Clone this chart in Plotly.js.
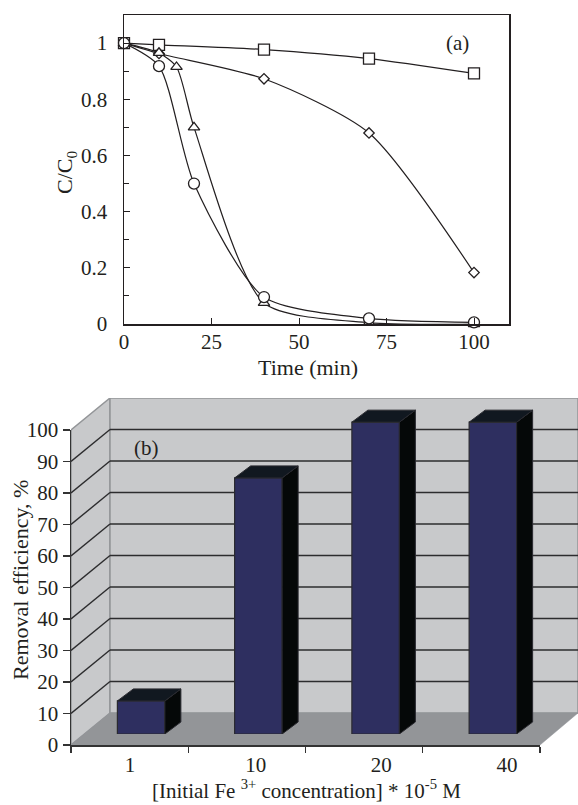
<!DOCTYPE html>
<html><head><meta charset="utf-8">
<script src="https://cdn.plot.ly/plotly-3.0.1.min.js"></script>
<style>html,body{margin:0;padding:0;background:#fff}</style></head>
<body><div id="g" style="width:578px;height:805px"></div>
<script>
// Panel (a)
const squareT=[0,10,40,70,100];
const squareC=[1,0.994,0.977,0.945,0.892];
const diamondT=[0,10,40,70,100];
const diamondC=[1,0.963,0.873,0.68,0.183];
const triangleT=[0,10,15,20,40,70,100];
const triangleC=[1,0.965,0.915,0.70,0.075,0.005,0];
const circleT=[0,10,20,40,70,100];
const circleC=[1,0.918,0.50,0.096,0.02,0.006];
const xTicksA=[0,25,50,75,100];
const yTicksA=[0,0.2,0.4,0.6,0.8,1];
const yLabelsA=['0','0.2','0.4','0.6','0.8','1'];
// Panel (b)
const categories=['1','10','20','40'];
const removal=[10.5,81.3,99,99];
const yTicksB=[0,10,20,30,40,50,60,70,80,90,100];

const W=578,H=805;
const fx=p=>p/W, fy=p=>1-p/H;
const serif='"Liberation Serif","Times New Roman",serif';
const ink='#231f20';

function curve(x,y,sym,size){return {x,y,type:'scatter',mode:'lines+markers',cliponaxis:false,hoverinfo:'skip',
 line:{color:ink,width:1.2,shape:'spline',smoothing:0.7},
 marker:{symbol:sym,size,color:'#fff',line:{color:ink,width:1.3}},showlegend:false};}

// depth of the 3-D box, in front-plane units (one category = 117.25px, ten percent = 31.5px)
const boxDx=39/117.25, boxDy=32/3.15;
const nCat=categories.length;
const wallRight=507/117.25;
function seg(list){const x=[],y=[];list.forEach(s=>{x.push(s[0],s[2],null);y.push(s[1],s[3],null);});return {x,y};}
function poly(xs,ys,fill,lineCol,lw,xa,ya){return {x:xs,y:ys,xaxis:xa,yaxis:ya,type:'scatter',mode:'lines',fill:'toself',fillcolor:fill,
 line:{color:lineCol,width:lw},cliponaxis:false,hoverinfo:'skip',showlegend:false};}

const top100=100+boxDy;
const traces=[];
traces.push(curve(squareT,squareC,'square',11));
traces.push(curve(diamondT,diamondC,'diamond',8));
traces.push(curve(triangleT,triangleC,'triangle-up',10));
traces.push(curve(circleT,circleC,'circle',11));

// walls and floor on a plane that spans the whole box
traces.push(poly([0,boxDx,boxDx,0,0],[0,boxDy,top100,100,0],'#c8c9cb','#939598',1.5,'x2','y2'));
traces.push(poly([boxDx,wallRight,wallRight,boxDx,boxDx],[boxDy,boxDy,top100,top100,boxDy],'#c8c9cb','#939598',1.5,'x2','y2'));
traces.push(poly([0,nCat,wallRight,wallRight,boxDx,0],[0,0,boxDy,boxDy,boxDy,0],'#939598','#939598',0.5,'x2','y2'));
const inner=yTicksB.filter(v=>v>0&&v<100);
const slants=seg(inner.map(v=>[0,v,boxDx,v+boxDy]));
const backs=seg(inner.map(v=>[boxDx,v+boxDy,wallRight,v+boxDy]));
[slants,backs].forEach(s=>traces.push({x:s.x,y:s.y,xaxis:'x2',yaxis:'y2',type:'scatter',mode:'lines',
 line:{color:'#2c2c2e',width:1.4},cliponaxis:false,hoverinfo:'skip',showlegend:false}));

// bars
const barPos=categories.map((c,i)=>i+0.5);
const barW=47.5/117.25, barDx=16/117.25, barDy=12/3.15;
removal.forEach((v,i)=>{
 const l=barPos[i]-barW/2,r=barPos[i]+barW/2;
 traces.push(poly([r,r+barDx,r+barDx,r,r],[0,barDy,v+barDy,v,0],'#050808','#2a2a30',1,'x3','y3'));
 traces.push(poly([l,r,r+barDx,l+barDx,l],[v,v,v+barDy,v+barDy,v],'#111820','#2a2a30',1,'x3','y3'));
});
traces.push({x:barPos,y:removal,xaxis:'x3',yaxis:'y3',type:'bar',width:barW,hoverinfo:'skip',showlegend:false,
 marker:{color:'#2e2f60',line:{color:'#2a2a30',width:1.2}}});
// category labels
traces.push({x:categories,y:categories.map(()=>null),xaxis:'x4',yaxis:'y4',type:'scatter',mode:'none',hoverinfo:'skip',showlegend:false});
// front axes
traces.push({x:[0,nCat],y:[null,null],xaxis:'x5',yaxis:'y5',type:'scatter',mode:'none',hoverinfo:'skip',showlegend:false});

const font={family:serif,size:21,color:ink};
const tfont={family:serif,size:22,color:ink};
const bfont={family:serif,size:21,color:ink};
const layout={width:W,height:H,margin:{l:0,r:0,t:0,b:0},paper_bgcolor:'#fff',plot_bgcolor:'rgba(0,0,0,0)',showlegend:false,font,
 xaxis:{domain:[fx(124),fx(509)],range:[0,110],anchor:'y',tickmode:'array',tickvals:xTicksA,ticktext:xTicksA.map(String),
  ticks:'inside',ticklen:6,tickwidth:1,tickcolor:ink,showline:true,linecolor:ink,linewidth:1.5,mirror:true,showgrid:false,zeroline:false,
  tickfont:font,ticklabelstandoff:-2},
 yaxis:{domain:[fy(324),fy(15)],range:[0,1.1],anchor:'x',tickmode:'array',tickvals:yTicksA,ticktext:yLabelsA,
  ticks:'inside',ticklen:6,tickwidth:1,tickcolor:ink,showline:true,linecolor:ink,linewidth:1.5,mirror:true,showgrid:false,zeroline:false,
  minor:{tickvals:[0.1,0.3,0.5,0.7,0.9],ticks:'inside',ticklen:5,tickwidth:1,tickcolor:ink,showgrid:false},
  tickfont:font,ticklabelstandoff:11},
 xaxis2:{domain:[fx(71),1],range:[0,wallRight],anchor:'y2',visible:false},
 yaxis2:{domain:[fy(745),fy(398)],range:[0,347/3.15],anchor:'x2',visible:false},
 xaxis3:{domain:[fx(82.5),fx(551.5)],range:[0,nCat],anchor:'y3',visible:false},
 yaxis3:{domain:[fy(734),fy(387.5)],range:[0,110],anchor:'x3',visible:false},
 xaxis4:{domain:[fx(67.2),fx(569.8)],type:'category',categoryarray:categories,range:[-0.5,3.5],anchor:'y4',showline:false,ticks:'',showgrid:false,zeroline:false,
  tickfont:font,ticklabelstandoff:5},
 yaxis4:{domain:[fy(745),fy(700)],range:[0,1],anchor:'x4',visible:false},
 xaxis5:{domain:[fx(71),fx(540)],range:[0,nCat],anchor:'y5',tickmode:'array',tickvals:[0,1,2,3,4],showticklabels:false,
  ticks:'outside',ticklen:6,tickwidth:1.3,tickcolor:'#333',showline:true,linecolor:'#333',linewidth:1.5,showgrid:false,zeroline:false},
 yaxis5:{domain:[fy(745),fy(430)],range:[0,100],anchor:'x5',tickmode:'array',tickvals:yTicksB,ticktext:yTicksB.map(String),
  ticks:'outside',ticklen:7,tickwidth:1.3,tickcolor:'#333',showline:true,linecolor:'#333',linewidth:1.5,showgrid:false,zeroline:false,
  tickfont:font,ticklabelstandoff:0},
 annotations:[
  {text:'(a)',xref:'paper',yref:'paper',x:fx(457),y:fy(43),showarrow:false,xanchor:'center',yanchor:'middle',font},
  {text:'(b)',xref:'paper',yref:'paper',x:fx(146),y:fy(448),showarrow:false,xanchor:'center',yanchor:'middle',font},
  {text:'Time (min)',xref:'paper',yref:'paper',x:fx(308),y:fy(367),showarrow:false,xanchor:'center',yanchor:'middle',font:tfont},
  {text:'C/C<sub>0</sub>',xref:'paper',yref:'paper',x:fx(66),y:fy(173),textangle:-90,showarrow:false,xanchor:'center',yanchor:'middle',font:tfont},
  {text:'[Initial Fe <sup>3+</sup> concentration] * 10<sup>-5</sup> M',xref:'paper',yref:'paper',x:fx(306),y:0,showarrow:false,xanchor:'center',yanchor:'bottom',font:bfont},
  {text:'Removal efficiency, %',xref:'paper',yref:'paper',x:fx(20),y:fy(580),textangle:-90,showarrow:false,xanchor:'center',yanchor:'middle',font:tfont}
 ]};
Plotly.newPlot('g',traces,layout,{displayModeBar:false,staticPlot:true});
</script></body></html>
